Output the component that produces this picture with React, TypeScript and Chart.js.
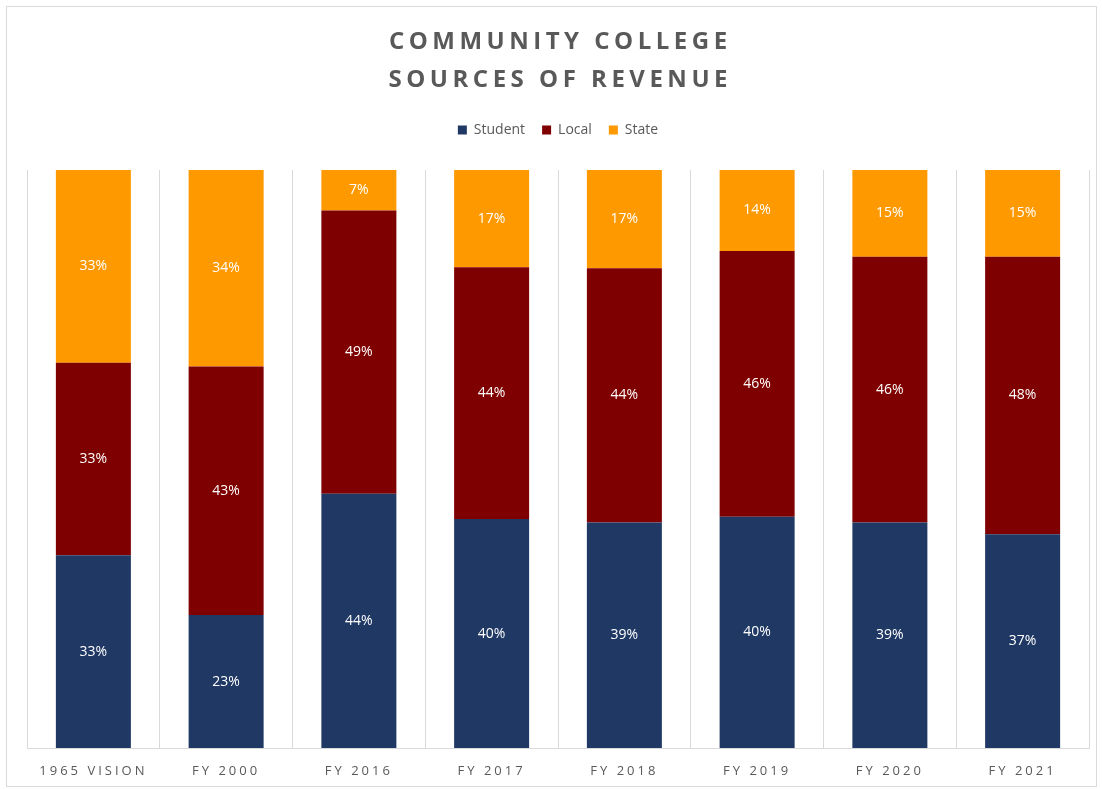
import React, { useEffect, useRef } from "react";
import { Chart, registerables } from "chart.js";

Chart.register(...registerables);

const categories = ["1965 VISION", "FY 2000", "FY 2016", "FY 2017", "FY 2018", "FY 2019", "FY 2020", "FY 2021"];
const studentValues = [33, 23, 44, 40, 39, 40, 39, 37];
const localValues = [33, 43, 49, 44, 44, 46, 46, 48];
const stateValues = [33, 34, 7, 17, 17, 14, 15, 15];
const seriesNames = ["Student", "Local", "State"];
const seriesColors = ["#203864", "#7f0000", "#ff9900"];
const titleLines = ["COMMUNITY COLLEGE", "SOURCES OF REVENUE"];

const rawSeries = [studentValues, localValues, stateValues];
const totals = categories.map((_, i) => rawSeries.reduce((s, arr) => s + arr[i], 0));
const percentSeries = rawSeries.map((arr) => arr.map((v, i) => (v / totals[i]) * 100));

const FONT = '"Open Sans", "DejaVu Sans", sans-serif';

const textPlugin = {
  id: "customText",
  beforeLayout(chart: any) {
    const lg = chart.legend;
    if (lg && !lg.__patched) {
      const orig = lg.fit.bind(lg);
      lg.fit = function () {
        orig();
        this.height += 23;
        this.bottom = this.top + this.height;
      };
      lg.__patched = true;
    }
  },
  afterDatasetsDraw(chart: any) {
    const ctx = chart.ctx;
    ctx.save();
    ctx.letterSpacing = "0px";
    ctx.font = `14px ${FONT}`;
    ctx.fillStyle = "#ffffff";
    ctx.textAlign = "center";
    ctx.textBaseline = "middle";
    chart.data.datasets.forEach((_: any, di: number) => {
      const meta = chart.getDatasetMeta(di);
      meta.data.forEach((bar: any, i: number) => {
        const p = bar.getProps(["x", "y", "base"], true);
        ctx.fillText(rawSeries[di][i] + "%", p.x, (p.y + p.base) / 2);
      });
    });
    ctx.restore();
    ctx.letterSpacing = "3px";
  },
  afterDraw(chart: any) {
    const ctx = chart.ctx;
    ctx.letterSpacing = "0px";
    ctx.save();
    const sp = 4.5;
    ctx.letterSpacing = sp + "px";
    ctx.font = `bold 24px ${FONT}`;
    ctx.fillStyle = "#595959";
    ctx.textAlign = "center";
    ctx.textBaseline = "middle";
    const cx = (chart.chartArea.left + chart.chartArea.right) / 2 + sp / 2;
    ctx.fillText(titleLines[0], cx, 42);
    ctx.fillText(titleLines[1], cx, 80);
    ctx.restore();
    ctx.letterSpacing = "0px";
  },
};

export default function App() {
  const canvasRef = useRef<HTMLCanvasElement | null>(null);

  useEffect(() => {
    if (!canvasRef.current) return;
    const chart = new Chart(canvasRef.current, {
      type: "bar",
      data: {
        labels: categories,
        datasets: seriesNames.map((name, i) => ({
          label: name,
          data: percentSeries[i],
          backgroundColor: seriesColors[i],
          borderWidth: 0,
          barPercentage: 0.565,
          categoryPercentage: 1,
        })),
      },
      options: {
        animation: false,
        responsive: false,
        layout: { padding: { top: 106, left: 27, right: 13, bottom: 0 } },
        plugins: {
          legend: {
            display: true,
            position: "top",
            labels: {
              boxWidth: 9,
              boxHeight: 9,
              padding: 17,
              color: "#595959",
              font: { family: FONT, size: 14 },
            },
          },
          title: { display: false },
          tooltip: { enabled: false },
        },
        scales: {
          x: {
            stacked: true,
            offset: true,
            grid: { color: "#d9d9d9", drawTicks: false, offset: true },
            border: { color: "#d9d9d9" },
            ticks: {
              z: 1,
              padding: 15,
              color: "#595959",
              font: { family: FONT, size: 13 },
              maxRotation: 0,
              autoSkip: false,
            },
            afterFit: (s: any) => {
              s.height = 41;
            },
          },
          y: {
            stacked: true,
            display: false,
            min: 0,
            max: 100,
          },
        },
      },
      plugins: [textPlugin],
    });
    return () => chart.destroy();
  }, []);

  return (
    <div style={{ position: "absolute", left: 0, top: 0, width: 1102, height: 789, background: "#ffffff" }}>
      <div
        style={{
          position: "absolute",
          left: 6,
          top: 6,
          width: 1091,
          height: 781,
          border: "1px solid #d9d9d9",
          boxSizing: "border-box",
        }}
      />
      <canvas
        ref={canvasRef}
        width={1102}
        height={789}
        style={{ position: "absolute", left: 0, top: 0, width: 1102, height: 789 }}
      />
    </div>
  );
}
